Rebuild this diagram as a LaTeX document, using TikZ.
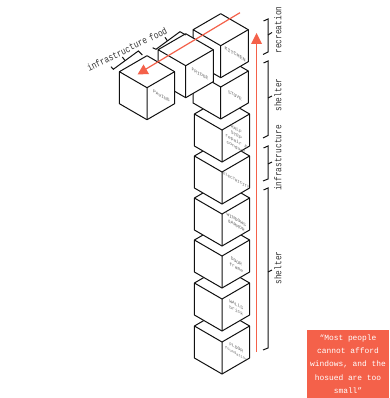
\documentclass[tikz,border=0pt]{standalone}
\usepackage{fontspec}
\setmainfont{Liberation Mono}
\definecolor{rd}{HTML}{F4614A}
\definecolor{ink}{HTML}{111111}
\definecolor{tx}{HTML}{333333}
\definecolor{fl}{HTML}{666666}
\tikzset{
  edge/.style={draw=ink,line width=1pt,line join=round},
  facef/.style={edge,fill=white},
  brk/.style={draw=ink,line width=1pt},
  redline/.style={draw=rd,line width=1.2pt},
  redhead/.style={fill=rd,draw=none},
  lbl/.style={text=tx,font=\fontsize{7.8}{9}\selectfont,inner sep=0pt,transform shape},
  facelbl/.style={text=fl,font=\fontsize{4.6}{6}\selectfont,inner sep=0pt,align=center,transform shape},
}
\newcommand{\cube}[4]{% x, centre y, name, label
  \begin{scope}[shift={(#1,#2)}]
    \coordinate (#3c) at (0,0);
    \coordinate (#3l) at (-27.6,-16);
    \coordinate (#3r) at (27.6,-16);
    \coordinate (#3t) at (0,-32);
    \coordinate (#3b) at (0,32);
    \coordinate (#3bl) at (-27.6,16);
    \coordinate (#3br) at (27.6,16);
    \path[facef] (#3c) -- (#3l) -- (#3t) -- (#3r) -- (#3br) -- (#3b) -- (#3bl) -- (#3l) -- cycle;
    \draw[edge] (#3c) -- (#3r) (#3c) -- (#3b);
    \begin{scope}[shift={(14.3,8.5)},cm={1,-0.58,0,1,(0,0)}]
      \node[facelbl] (#3n) at (0,0) {#4};
    \end{scope}
  \end{scope}}
\begin{document}
\begin{tikzpicture}[x=1pt,y=-1pt]
\useasboundingbox (0,0) rectangle (389,398);
\cube{222}{342}{a}{FLOOR\\{\fontsize{3.7}{6}\selectfont foundation}}
\cube{222}{299}{b}{WALLS\\brick}
\cube{222}{256}{d}{DOOR\\frame}
\cube{222}{214}{e}{WINDOWS\\\&ARMOR}
\cube{222}{172}{f}{{\fontsize{3.9}{5}\selectfont ELECTRICITY}}
\cube{222}{130}{g}{HALF\\STEP\\repair \&\\conduct}
\cube{220.7}{87}{h}{STOVE}
\cube{220.7}{45.7}{i}{{\fontsize{5}{6}\selectfont KITCHEN}}
\cube{185.7}{65.7}{j}{FRIDGE}
\cube{147}{87.7}{k}{PAVING}
% brackets above the row
\draw[brk] (111,66.7) -- (113.3,69.3) -- (138.3,51) -- (142.3,55);
\draw[brk] (125,60.5) -- (122.3,57);
\draw[brk] (152.7,47.7) -- (156,49.3) -- (180,31.7) -- (185.7,35);
\draw[brk] (167.3,40.7) -- (165,37.3);
\node[lbl,rotate=26,yscale=1.25] (t1) at (117,54) {infrastructure};
\node[lbl,rotate=26,yscale=1.25] (t2) at (158,34) {food};
% red arrows
\coordinate (r1a) at (240,12.7);
\coordinate (r1b) at (141,72);
\coordinate (r2a) at (256.5,352);
\coordinate (r2b) at (256.5,42);
\draw[redline] (r1a) -- (r1b);
\path[redhead] (137.5,74.5) -- (143.5,64.5) -- (149,74) -- cycle;
\draw[redline] (r2a) -- (r2b);
\path[redhead] (256.5,33) -- (262,44) -- (251,44) -- cycle;
% right brackets
\draw[brk] (263.5,21) -- (268,19) -- (268,52) -- (263,54.5);
\draw[brk] (268,35) -- (272,32.5);
\draw[brk] (263.5,63) -- (268,61) -- (268,135.5) -- (263,138);
\draw[brk] (268,98) -- (272,96);
\draw[brk] (263.5,148) -- (268,146) -- (268,179) -- (263,181);
\draw[brk] (268,164) -- (272,162);
\draw[brk] (263.5,190) -- (268,188) -- (268,348) -- (263,350);
\draw[brk] (268,272) -- (272,270);
\node[lbl,rotate=90,yscale=1.25] (r) at (278,30) {recreation};
\node[lbl,rotate=90,yscale=1.25] (s1) at (278,95) {shelter};
\node[lbl,rotate=90,yscale=1.25] (in) at (278,158) {infrastructure};
\node[lbl,rotate=90,yscale=1.25] (s2) at (278,268) {shelter};
% quote box
\node[fill=rd,text=white,minimum width=82pt,minimum height=68pt,inner sep=0pt,align=center,
  font=\fontsize{7.9}{13.3}\selectfont] (q) at (348,364)
  {“Most people\\cannot afford\\windows, and the\\hosued are too\\small”};
\end{tikzpicture}
\end{document}
